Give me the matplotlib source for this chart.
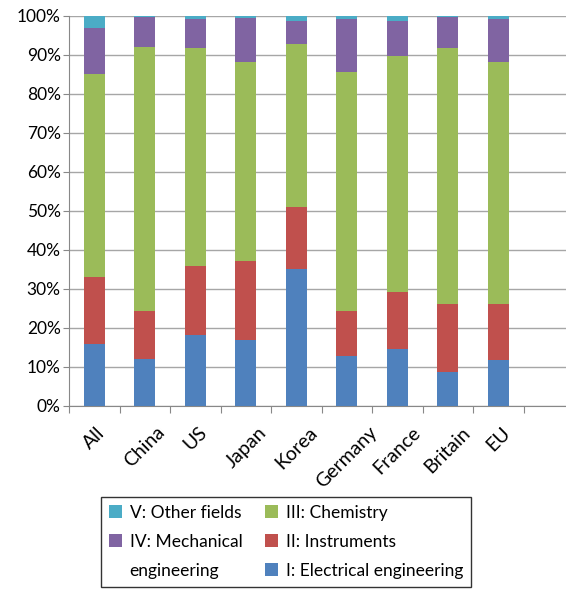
import numpy as np
import matplotlib.pyplot as plt
from matplotlib.patches import Rectangle

plt.rcParams['font.family'] = ['Lato', 'DejaVu Sans']

# shares of patent fields per region (percent)
regions = ["All", "China", "US", "Japan", "Korea", "Germany", "France", "Britain", "EU"]
electrical = [15.9, 12.1, 18.1, 16.8, 35.2, 12.7, 14.6, 8.8, 11.7]
instruments = [17.1, 12.2, 17.7, 20.3, 15.7, 11.6, 14.5, 17.4, 14.5]
chemistry = [52.0, 67.7, 55.9, 51.0, 41.8, 61.3, 60.7, 65.5, 61.9]
mechanical = [11.8, 7.7, 7.4, 11.3, 6.0, 13.6, 8.9, 8.1, 11.1]
other = [3.2, 0.3, 0.9, 0.6, 1.3, 0.8, 1.3, 0.2, 0.8]

series = [
    ("I: Electrical engineering", electrical, "#4F81BD"),
    ("II: Instruments", instruments, "#C0504D"),
    ("III: Chemistry", chemistry, "#9BBB59"),
    ("IV: Mechanical", mechanical, "#8064A2"),
    ("V: Other fields", other, "#4BACC6"),
]

fig = plt.figure(figsize=(5.66, 5.89), dpi=100)
ax = fig.add_axes([0.122, 0.311, 0.878, 0.662])

x = np.arange(len(regions))
bottom = np.zeros(len(regions))
bars = {}
for name, vals, col in series:
    bars[name] = ax.bar(x, vals, 0.41, bottom=bottom, color=col, zorder=3)
    bottom += np.array(vals)

ax.set_ylim(0, 100)
ax.set_xlim(-0.5, 9.34)
ax.set_yticks(np.arange(0, 101, 10))
ax.set_yticklabels([f"{v}%" for v in range(0, 101, 10)], fontsize=12.5)
ax.yaxis.grid(True, color="#A6A6A6", linewidth=1, zorder=0)
ax.tick_params(axis="y", length=4, color="#888888", pad=2)

# category ticks sit between the bars, names are rotated under each bar
ax.set_xticks(np.arange(len(regions) + 1) - 0.5)
ax.set_xticklabels([])
ax.tick_params(axis="x", length=5, color="#888888")
for i, r in enumerate(regions):
    ax.text(i, -4.6, r, rotation=45, ha="center", va="top", fontsize=14)

for s in ["top", "right"]:
    ax.spines[s].set_visible(False)
for s in ["left", "bottom"]:
    ax.spines[s].set_color("#888888")

# blank entry lets the mechanical label wrap onto a second row
blank = Rectangle((0, 0), 1, 1, alpha=0)
handles = [bars["V: Other fields"], bars["IV: Mechanical"], blank,
           bars["III: Chemistry"], bars["II: Instruments"], bars["I: Electrical engineering"]]
labels = ["V: Other fields", "IV: Mechanical", "engineering",
          "III: Chemistry", "II: Instruments", "I: Electrical engineering"]
leg = fig.legend(handles, labels, ncol=2, loc="upper left",
                 bbox_to_anchor=(101 / 566, 1 - 497 / 589), borderaxespad=0,
                 fontsize=12.5, frameon=True, fancybox=False, edgecolor="black",
                 handlelength=0.75, handleheight=0.75, handletextpad=0.45,
                 columnspacing=1.3, labelspacing=0.75, borderpad=0.45)
leg.get_frame().set_linewidth(1.0)

fig.savefig("out.png", dpi=100)
